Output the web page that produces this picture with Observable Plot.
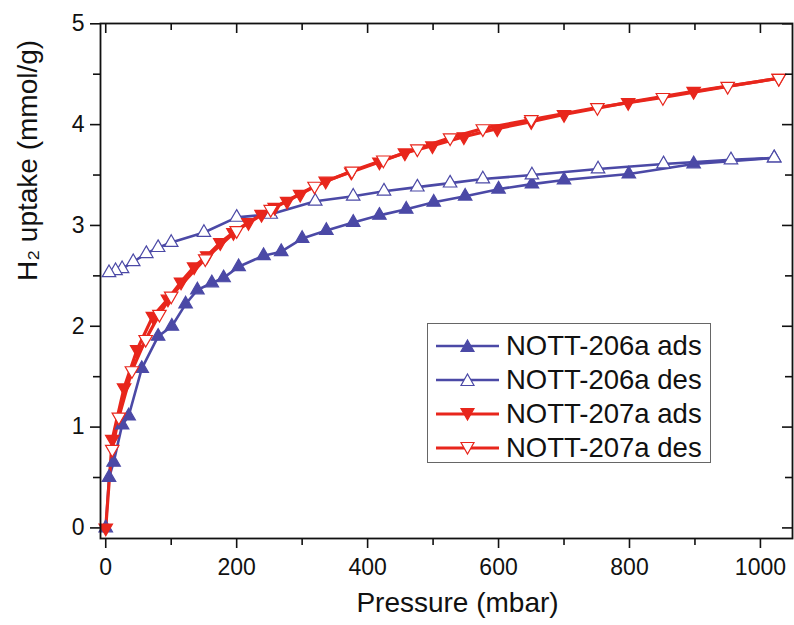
<!DOCTYPE html>
<html><head><meta charset="utf-8">
<script src="https://cdn.jsdelivr.net/npm/d3@7"></script>
<script src="https://cdn.jsdelivr.net/npm/@observablehq/plot@0.6"></script>
<style>
body{margin:0;background:#fff;font-family:"Liberation Sans",Arial,Helvetica,sans-serif;}
#wrap{position:relative;width:794px;height:625px;}
#legend{position:absolute;left:427px;top:323px;width:284px;height:140px;border:1.5px solid #666;background:#fff;box-sizing:border-box;padding-top:5px;}
.row{height:34px;display:flex;align-items:center;font-size:27.5px;color:#111;white-space:nowrap;}
.row svg{margin-left:8px;margin-right:6px;flex:none;}
</style></head><body><div id="wrap"></div>
<script>
// ---- data ----
const xTicks = [0, 200, 400, 600, 800, 1000];
const xMinor = [100, 300, 500, 700, 900];
const yTicks = [0, 1, 2, 3, 4, 5];
const yMinor = [0.5, 1.5, 2.5, 3.5, 4.5];
const xLabel = "Pressure (mbar)";
const yLabel = "H\u2082 uptake (mmol/g)";
const seriesNames = ["NOTT-206a ads", "NOTT-206a des", "NOTT-207a ads", "NOTT-207a des"];
const seriesColors = ["#4b49a6", "#4b49a6", "#e8261c", "#e8261c"];

const p206ads = [0, 5, 12, 25, 35, 55, 80, 101, 122, 140, 162, 180, 203, 241, 268, 300, 337, 378, 418, 459, 501, 549, 600, 651, 700, 799, 898, 1021];
const u206ads = [0, 0.50, 0.65, 1.02, 1.11, 1.58, 1.90, 2.00, 2.22, 2.36, 2.43, 2.48, 2.59, 2.70, 2.74, 2.87, 2.95, 3.03, 3.10, 3.16, 3.23, 3.29, 3.36, 3.41, 3.45, 3.51, 3.61, 3.67];

const p206des = [1021, 955, 852, 752, 651, 576, 526, 476, 425, 378, 320, 252, 200, 150, 100, 80, 62, 42, 25, 15, 5];
const u206des = [3.67, 3.65, 3.61, 3.56, 3.50, 3.46, 3.42, 3.38, 3.34, 3.29, 3.24, 3.11, 3.08, 2.93, 2.83, 2.78, 2.72, 2.64, 2.57, 2.55, 2.53];

const p207ads = [0, 10, 28, 48, 72, 95, 115, 135, 155, 175, 195, 218, 238, 258, 277, 297, 336, 375, 418, 457, 499, 547, 598, 650, 700, 798, 898, 1028];
const u207ads = [0, 0.88, 1.39, 1.77, 2.10, 2.27, 2.44, 2.59, 2.70, 2.83, 2.93, 3.03, 3.11, 3.18, 3.24, 3.31, 3.44, 3.53, 3.63, 3.72, 3.79, 3.88, 3.96, 4.03, 4.10, 4.22, 4.33, 4.46];

const p207des = [1028, 950, 851, 751, 650, 576, 526, 476, 424, 376, 319, 252, 200, 152, 100, 82, 61, 40, 20, 10];
const u207des = [4.46, 4.38, 4.27, 4.17, 4.05, 3.96, 3.87, 3.76, 3.65, 3.54, 3.39, 3.16, 2.95, 2.67, 2.30, 2.12, 1.87, 1.56, 1.10, 0.78];

// ---- build ----
const toRows = (ps, us) => ps.map((p, i) => ({p, u: us[i]}));
const series = [
  {rows: toRows(p206ads, u206ads), color: seriesColors[0], filled: true, rot: 0, lw: 2.6},
  {rows: toRows(p206des, u206des), color: seriesColors[1], filled: false, rot: 0, lw: 2.6},
  {rows: toRows(p207ads, u207ads), color: seriesColors[2], filled: true, rot: 180, lw: 3.2},
  {rows: toRows(p207des, u207des), color: seriesColors[3], filled: false, rot: 180, lw: 3.2}
];

const W = 794, H = 625, mL = 100, mR = 2, mT = 23, mB = 87;
const fw = W - mL - mR, fh = H - mT - mB;
const fmt = d => String(d);

const marks = [];
series.forEach(s => {
  const rows = s.rows.slice().sort((a, b) => a.p - b.p);
  marks.push(Plot.line(rows, {x: "p", y: "u", stroke: s.color, strokeWidth: s.lw}));
});
series.forEach(s => {
  marks.push(Plot.dot(s.rows, {x: "p", y: "u", symbol: "triangle", r: 5, rotate: s.rot,
    fill: s.filled ? s.color : "white", stroke: s.color, strokeWidth: 1.2}));
});

marks.push(
  Plot.frame({stroke: "#111", strokeWidth: 1.8}),
  Plot.axisX(xTicks, {tickSize: 10, tickPadding: 10, fontSize: 23, label: null, strokeWidth: 1.6, tickFormat: fmt}),
  Plot.axisX(xMinor, {tickSize: 7, tickFormat: () => "", label: null, strokeWidth: 1.6}),
  Plot.axisY(yTicks, {tickSize: 10, tickPadding: 6, fontSize: 23, label: null, strokeWidth: 1.6, tickFormat: fmt}),
  Plot.axisY(yMinor, {tickSize: 7, tickFormat: () => "", label: null, strokeWidth: 1.6}),
  Plot.tickX(xTicks, {x: d => d, insetBottom: fh - 10, stroke: "#111", strokeWidth: 1.6}),
  Plot.tickX(xMinor, {x: d => d, insetBottom: fh - 7, stroke: "#111", strokeWidth: 1.6}),
  Plot.tickY(yTicks, {y: d => d, insetLeft: fw - 10, stroke: "#111", strokeWidth: 1.6}),
  Plot.tickY(yMinor, {y: d => d, insetLeft: fw - 7, stroke: "#111", strokeWidth: 1.6}),
  Plot.text([xLabel], {text: d => d, frameAnchor: "bottom", dy: 73, dx: 11, fontSize: 28, fill: "#111"}),
  Plot.text([yLabel], {text: d => d, frameAnchor: "left", rotate: -90, dx: -72, fontSize: 28, fill: "#111"})
);

const chart = Plot.plot({
  width: W, height: H,
  marginLeft: mL, marginRight: mR, marginTop: mT, marginBottom: mB,
  style: {fontFamily: '"Liberation Sans", Arial, Helvetica, sans-serif', color: "#111", background: "white"},
  x: {domain: [-8, 1049]},
  y: {domain: [-0.105, 5.003]},
  marks
});
const wrap = document.getElementById("wrap");
wrap.appendChild(chart);

// legend
const leg = document.createElement("div");
leg.id = "legend";
series.forEach((s, i) => {
  const row = document.createElement("div");
  row.className = "row";
  const tri = s.rot === 0 ? "31.5,9 38,20.5 25,20.5" : "25,9.5 38,9.5 31.5,21";
  row.innerHTML = `<svg width="64" height="30"><line x1="0" y1="15" x2="63" y2="15" stroke="${s.color}" stroke-width="${s.lw}"/>` +
    `<polygon points="${tri}" fill="${s.filled ? s.color : 'white'}" stroke="${s.color}" stroke-width="1.2"/></svg><span>${seriesNames[i]}</span>`;
  leg.appendChild(row);
});
wrap.appendChild(leg);
</script>
</body></html>
